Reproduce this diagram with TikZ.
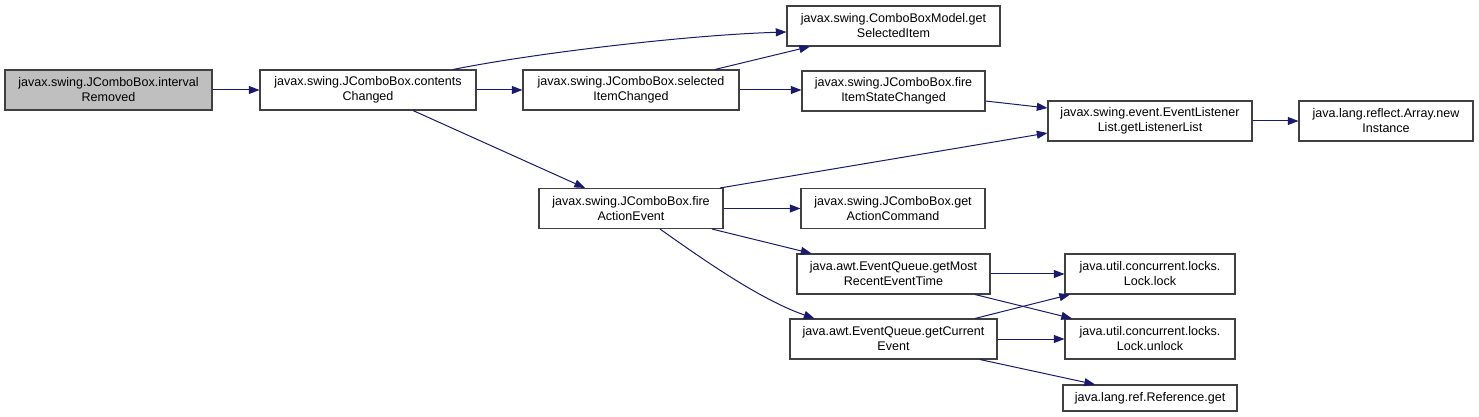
\documentclass[tikz,border=0pt]{standalone}
\usepackage{fontspec}
\setmainfont{Liberation Sans}
\usetikzlibrary{arrows.meta,calc}
\definecolor{edgeblue}{HTML}{191970}
\definecolor{boxgray}{HTML}{BFBFBF}
\definecolor{bordergray}{HTML}{404040}
\tikzset{
  box/.style={draw=bordergray, line width=0.8pt, fill=white, align=center, inner sep=0pt,
    minimum height=30pt, font=\fontsize{9.4}{11.25}\selectfont},
  edge/.style={draw=edgeblue, line width=0.75pt, -{Triangle[length=8pt,width=6pt]}}
}
\begin{document}
\begin{tikzpicture}[x=0.75pt,y=-0.75pt]
\useasboundingbox (0,0) rectangle (1479,417);
\node[box, fill=boxgray, minimum width=155.25pt] (n1) at (108.5,90) {javax.swing.JComboBox.interval\\Removed};
\node[box, minimum width=162pt] (n2) at (368,90) {javax.swing.JComboBox.contents\\Changed};
\node[box, minimum width=162pt] (n3) at (631,90) {javax.swing.JComboBox.selected\\ItemChanged};
\node[box, minimum width=159.75pt] (n4) at (893.5,26) {javax.swing.ComboBoxModel.get\\SelectedItem};
\node[box, minimum width=137.25pt] (n5) at (893.5,91) {javax.swing.JComboBox.fire\\ItemStateChanged};
\node[box, minimum width=153pt] (n6) at (1150,121) {javax.swing.event.EventListener\\List.getListenerList};
\node[box, minimum width=130.5pt] (n7) at (1386,121) {java.lang.reflect.Array.new\\Instance};
\node[box, minimum width=138pt] (n8) at (631,208.5) {javax.swing.JComboBox.fire\\ActionEvent};
\node[box, minimum width=138pt] (n9) at (893,208.5) {javax.swing.JComboBox.get\\ActionCommand};
\node[box, minimum width=144.75pt] (n10) at (893.5,274) {java.awt.EventQueue.getMost\\RecentEventTime};
\node[box, minimum width=155.25pt] (n11) at (893.5,339) {java.awt.EventQueue.getCurrent\\Event};
\node[box, minimum width=127.5pt] (n12) at (1150,274) {java.util.concurrent.locks.\\Lock.lock};
\node[box, minimum width=127.5pt] (n13) at (1150,339) {java.util.concurrent.locks.\\Lock.unlock};
\node[box, minimum width=130.5pt, minimum height=19.5pt] (n14) at (1150,398) {java.lang.ref.Reference.get};

\draw[edge] (n1.east) -- (n2.west);
\draw[edge] ($(n2.north)+(85,0)$) .. controls +(80,-16) and +(-100,3) .. ($(n4.west)+(0,6)$);
\draw[edge] (n2.east) -- (n3.west);
\draw[edge] ($(n2.south)+(45,0)$) -- ($(n8.north)+(-46,0)$);
\draw[edge] ($(n3.north)+(84,0)$) -- ($(n4.south)+(-83.5,0)$);
\draw[edge] (n3.east) -- ($(n5.west)+(0,-1)$);
\draw[edge] ($(n5.east)+(0,10)$) -- ($(n6.west)+(0,-13)$);
\draw[edge] ($(n8.north)+(89,0)$) -- ($(n6.west)+(0,12)$);
\draw[edge] (n8.east) -- (n9.west);
\draw[edge] ($(n8.south)+(81,0)$) -- ($(n10.north)+(-82,0)$);
\draw[edge] ($(n8.south)+(29,0)$) .. controls +(41,29) and +(-55,-19) .. ($(n11.north)+(-79,0)$);
\draw[edge] (n10.east) -- (n12.west);
\draw[edge] ($(n10.south)+(81.5,0)$) -- ($(n13.north)+(-78,0)$);
\draw[edge] ($(n11.north)+(81.5,0)$) -- ($(n12.south)+(-80,0)$);
\draw[edge] (n11.east) -- (n13.west);
\draw[edge] ($(n11.south)+(86.5,0)$) -- ($(n14.north)+(-55,0)$);
\draw[edge] (n6.east) -- (n7.west);
\end{tikzpicture}
\end{document}
